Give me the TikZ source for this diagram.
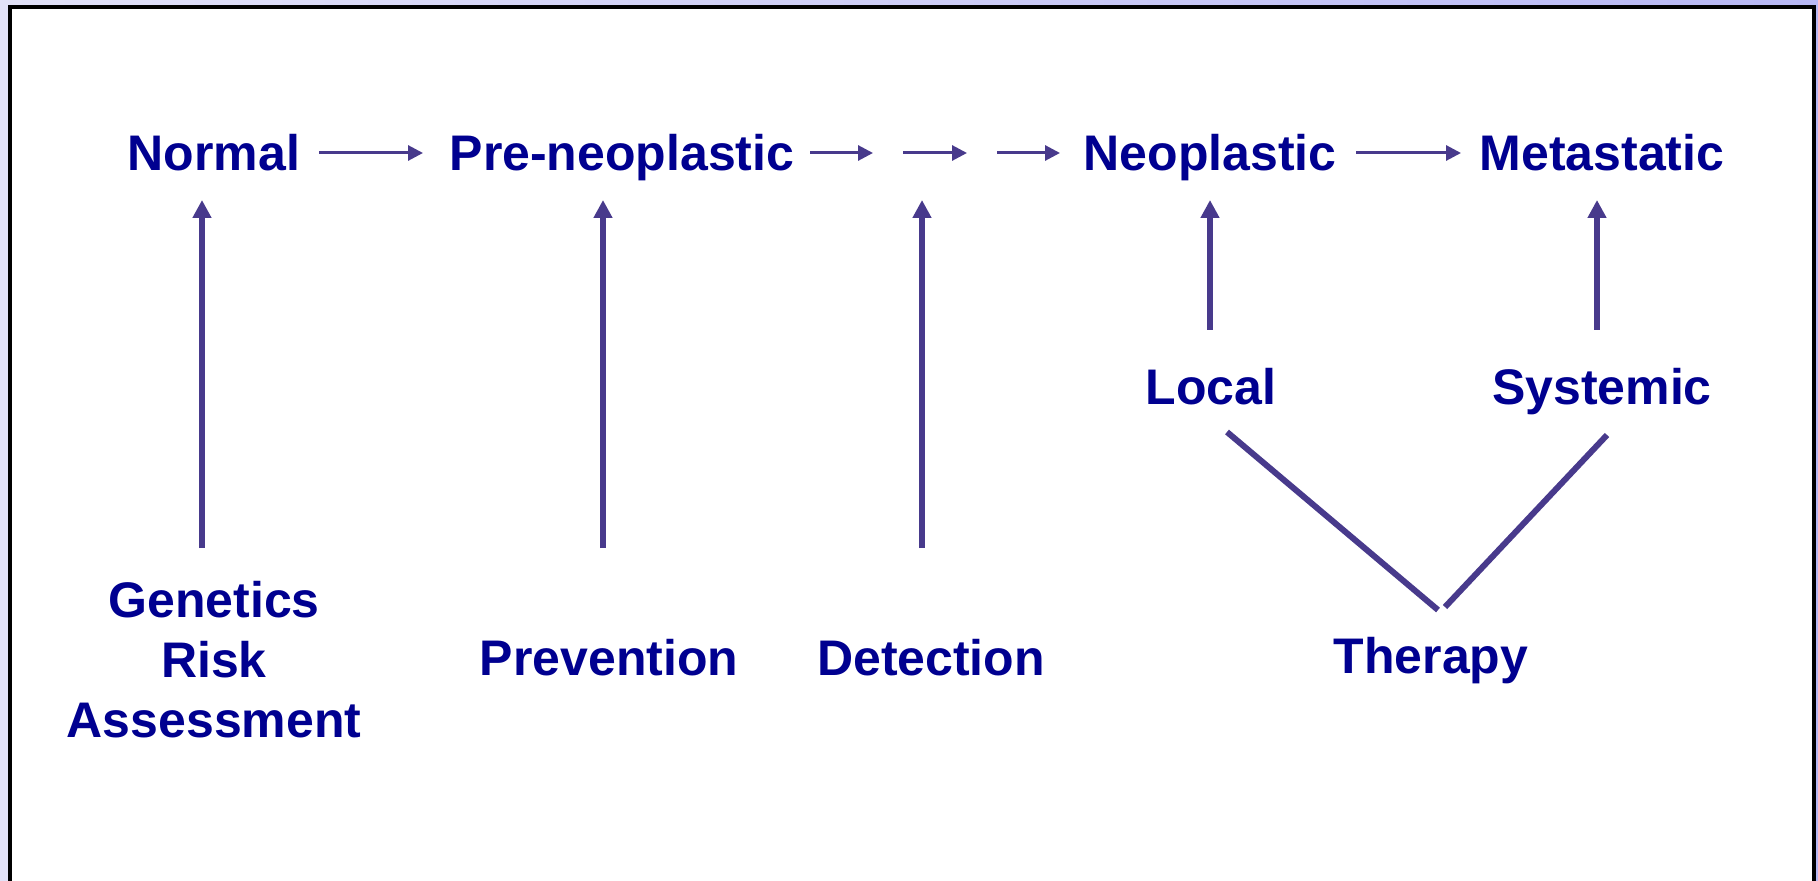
\documentclass[tikz,border=0pt]{standalone}
\usepackage{fontspec}
\setmainfont{Liberation Sans}
\usetikzlibrary{arrows.meta}
\definecolor{txt}{HTML}{000090}
\definecolor{arr}{HTML}{483A8C}
\definecolor{bgl}{HTML}{E2E2F8}
\definecolor{bgr}{HTML}{B8B8F4}
\begin{document}
\begin{tikzpicture}[x=0.5pt,y=-0.5pt,
  lbl/.style={text=txt, font=\fontsize{25}{30}\selectfont\bfseries, inner sep=0pt, anchor=base, align=center},
  harrow/.style={draw=arr, line width=1.5pt, -{Triangle[length=7.5pt,width=7.5pt]}},
  varrow/.style={draw=arr, line width=3pt, -{Triangle[length=9pt,width=9pt]}},
  vline/.style={draw=arr, line width=3pt}]
\clip (0,0) rectangle (1818,881);
\shade[left color=bgl, right color=bgr] (0,0) rectangle (1818,881);
\draw[fill=white, line width=1.7pt] (10,7) rectangle (1814,900);

% top row
\node[lbl] (normal) at (214,171) {Normal};
\node[lbl] (pre) at (622,171) {Pre-neoplastic};
\node[lbl] (neo) at (1210,171) {Neoplastic};
\node[lbl] (meta) at (1602,171) {Metastatic};
% middle row
\node[lbl] (local) at (1211,405) {Local};
\node[lbl] (sys) at (1602,405) {Systemic};
% bottom row
\node[lbl] (gen) at (214,737) {Genetics\\Risk\\Assessment};
\node[lbl] (prev) at (609,675) {Prevention};
\node[lbl] (det) at (931,675) {Detection};
\node[lbl] (ther) at (1431,673) {Therapy};

% coordinates
\coordinate (h1a) at (319,153); \coordinate (h1b) at (423,153);
\coordinate (h2a) at (810,153); \coordinate (h2b) at (873,153);
\coordinate (h3a) at (903,153); \coordinate (h3b) at (967,153);
\coordinate (h4a) at (997,153); \coordinate (h4b) at (1060,153);
\coordinate (h5a) at (1356,153); \coordinate (h5b) at (1461,153);
\coordinate (v1a) at (202,548); \coordinate (v1b) at (202,200);
\coordinate (v2a) at (603,548); \coordinate (v2b) at (603,200);
\coordinate (v3a) at (922,548); \coordinate (v3b) at (922,200);
\coordinate (v4a) at (1210,330); \coordinate (v4b) at (1210,200);
\coordinate (v5a) at (1597,330); \coordinate (v5b) at (1597,200);
\coordinate (l1a) at (1227,432); \coordinate (l1b) at (1438,610);
\coordinate (l2a) at (1607,435); \coordinate (l2b) at (1445,607);

\draw[harrow] (h1a) -- (h1b);
\draw[harrow] (h2a) -- (h2b);
\draw[harrow] (h3a) -- (h3b);
\draw[harrow] (h4a) -- (h4b);
\draw[harrow] (h5a) -- (h5b);
\draw[varrow] (v1a) -- (v1b);
\draw[varrow] (v2a) -- (v2b);
\draw[varrow] (v3a) -- (v3b);
\draw[varrow] (v4a) -- (v4b);
\draw[varrow] (v5a) -- (v5b);
\draw[vline] (l1a) -- (l1b);
\draw[vline] (l2a) -- (l2b);
\end{tikzpicture}
\end{document}
